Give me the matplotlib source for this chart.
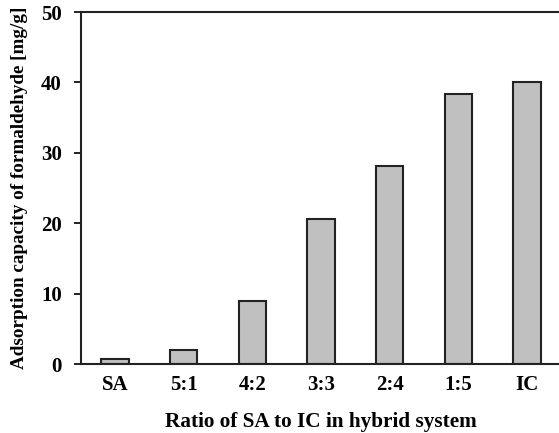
import matplotlib.pyplot as plt
import numpy as np

plt.rcParams['font.family'] = ['Liberation Serif', 'DejaVu Serif']
plt.rcParams['font.weight'] = 'bold'

ratios = ['SA', '5:1', '4:2', '3:3', '2:4', '1:5', 'IC']
capacity = [0.7, 2.0, 9.0, 20.6, 28.1, 38.3, 40.0]

fig = plt.figure(figsize=(5.59, 4.33), dpi=100)
ax = fig.add_axes([80.5 / 559, 1 - 364 / 433, 481 / 559, 352 / 433])

x = np.arange(len(ratios))
ax.bar(x, capacity, width=0.4, color='#c0c0c0', edgecolor='#222222', linewidth=1.5)

ax.set_xlim(-0.5, 6.5)
ax.set_ylim(0, 50)
ax.set_yticks([0, 10, 20, 30, 40, 50])
ax.set_xticks(x)
ax.set_xticklabels(ratios)
ax.tick_params(axis='x', length=0, pad=8, labelsize=15)
ax.tick_params(axis='y', length=5, width=1.2, direction='out', pad=8.5, labelsize=15)
for s in ax.spines.values():
    s.set_linewidth(1.5)
    s.set_color('#222222')

ax.set_xlabel('Ratio of SA to IC in hybrid system', fontsize=15.3, fontweight='bold', labelpad=12)
ax.set_ylabel('Adsorption capacity of formaldehyde [mg/g]', fontsize=13.8, fontweight='bold', labelpad=9)

fig.savefig('out.png', dpi=100)
